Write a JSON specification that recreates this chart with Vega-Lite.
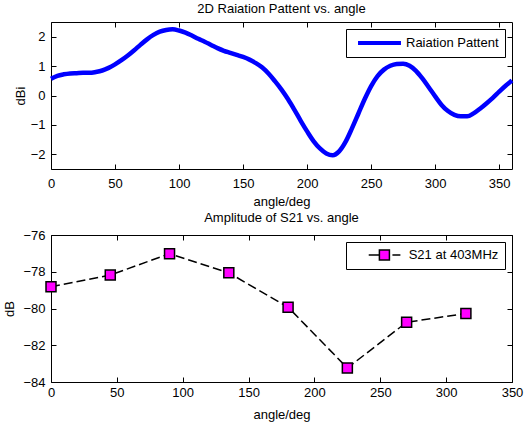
{
  "$schema": "https://vega.github.io/schema/vega-lite/v6.json",
  "padding": {"left": 3, "top": 2, "right": 2, "bottom": 1},
  "spacing": 2,
  "resolve": {"legend": {"stroke": "independent", "fill": "independent"}},
  "config": {
    "font": "Liberation Sans",
    "view": {"stroke": "black", "strokeWidth": 1},
    "axis": {"domain": false, "grid": false, "tickColor": "black", "tickSize": -5, "labelFontSize": 13, "labelColor": "black", "titleFontSize": 13, "titleFontWeight": "normal", "titleColor": "black", "labelFont": "Liberation Sans", "titleFont": "Liberation Sans", "labelFlush": false, "labelOverlap": false},
    "title": {"fontSize": 13, "fontWeight": "normal", "font": "Liberation Sans", "color": "black", "offset": 4},
    "legend": {"labelFontSize": 13, "labelColor": "black", "labelFont": "Liberation Sans", "strokeColor": "black", "fillColor": "white", "padding": 6, "cornerRadius": 0, "orient": "top-right", "offset": 7}
  },
  "vconcat": [
    {
      "width": 461,
      "height": 147,
      "title": {"text": "2D Raiation Pattent vs. angle"},
      "data": {"values": [
        {"angle": 0, "dBi": 0.57}, {"angle": 5, "dBi": 0.67}, {"angle": 10, "dBi": 0.72}, {"angle": 15, "dBi": 0.75},
        {"angle": 20, "dBi": 0.76}, {"angle": 25, "dBi": 0.77}, {"angle": 30, "dBi": 0.77}, {"angle": 35, "dBi": 0.8},
        {"angle": 40, "dBi": 0.85}, {"angle": 45, "dBi": 0.94}, {"angle": 50, "dBi": 1.06}, {"angle": 55, "dBi": 1.2},
        {"angle": 60, "dBi": 1.36}, {"angle": 65, "dBi": 1.54}, {"angle": 70, "dBi": 1.73}, {"angle": 75, "dBi": 1.91},
        {"angle": 80, "dBi": 2.06}, {"angle": 85, "dBi": 2.17}, {"angle": 90, "dBi": 2.23}, {"angle": 95, "dBi": 2.25},
        {"angle": 100, "dBi": 2.21}, {"angle": 105, "dBi": 2.14}, {"angle": 110, "dBi": 2.04}, {"angle": 115, "dBi": 1.93},
        {"angle": 120, "dBi": 1.83}, {"angle": 125, "dBi": 1.72}, {"angle": 130, "dBi": 1.61}, {"angle": 135, "dBi": 1.52},
        {"angle": 140, "dBi": 1.45}, {"angle": 145, "dBi": 1.38}, {"angle": 150, "dBi": 1.31}, {"angle": 155, "dBi": 1.22},
        {"angle": 160, "dBi": 1.1}, {"angle": 165, "dBi": 0.95}, {"angle": 170, "dBi": 0.74}, {"angle": 175, "dBi": 0.48},
        {"angle": 180, "dBi": 0.2}, {"angle": 185, "dBi": -0.12}, {"angle": 190, "dBi": -0.48}, {"angle": 195, "dBi": -0.86},
        {"angle": 200, "dBi": -1.22}, {"angle": 205, "dBi": -1.55}, {"angle": 210, "dBi": -1.8}, {"angle": 215, "dBi": -1.97},
        {"angle": 220, "dBi": -2.03}, {"angle": 225, "dBi": -1.9}, {"angle": 230, "dBi": -1.58}, {"angle": 235, "dBi": -1.12},
        {"angle": 240, "dBi": -0.62}, {"angle": 245, "dBi": -0.12}, {"angle": 250, "dBi": 0.32}, {"angle": 255, "dBi": 0.66},
        {"angle": 260, "dBi": 0.88}, {"angle": 265, "dBi": 1.01}, {"angle": 270, "dBi": 1.07}, {"angle": 275, "dBi": 1.08},
        {"angle": 280, "dBi": 1.01}, {"angle": 285, "dBi": 0.84}, {"angle": 290, "dBi": 0.58}, {"angle": 295, "dBi": 0.28},
        {"angle": 300, "dBi": -0.03}, {"angle": 305, "dBi": -0.32}, {"angle": 310, "dBi": -0.53}, {"angle": 315, "dBi": -0.66},
        {"angle": 320, "dBi": -0.71}, {"angle": 325, "dBi": -0.71}, {"angle": 330, "dBi": -0.61}, {"angle": 335, "dBi": -0.45},
        {"angle": 340, "dBi": -0.27}, {"angle": 345, "dBi": -0.08}, {"angle": 350, "dBi": 0.13}, {"angle": 355, "dBi": 0.33},
        {"angle": 360, "dBi": 0.51}
      ]},
      "layer": [
        {
          "mark": {"type": "line", "strokeWidth": 4.5, "interpolate": "monotone"},
          "encoding": {
            "x": {"field": "angle", "type": "quantitative", "scale": {"domain": [0, 360], "nice": false, "zero": false}, "axis": {"title": "angle/deg", "values": [0, 50, 100, 150, 200, 250, 300, 350], "labelPadding": 13, "titlePadding": 5}},
            "y": {"field": "dBi", "type": "quantitative", "scale": {"domain": [-2.5, 2.5], "nice": false, "zero": false}, "axis": {"title": "dBi", "values": [-2, -1, 0, 1, 2], "labelPadding": 11, "titlePadding": 3}},
            "stroke": {"datum": "Raiation Pattent", "type": "nominal", "scale": {"range": ["#0000ff"]}, "legend": {"title": null, "symbolType": "M-0.33,0H6.83", "symbolSize": 144, "symbolStrokeWidth": 4, "labelOffset": 38, "encode": {"symbols": {"update": {"stroke": {"value": "#0000ff"}, "strokeWidth": {"value": 4}, "shape": {"value": "M-0.33,0H6.83"}}}}}}
          }
        },
        {
          "mark": {"type": "line", "opacity": 0},
          "encoding": {
            "x": {"field": "angle", "type": "quantitative", "axis": {"orient": "top", "labels": false, "title": null, "values": [0, 50, 100, 150, 200, 250, 300, 350]}},
            "y": {"field": "dBi", "type": "quantitative", "axis": {"orient": "right", "labels": false, "title": null, "values": [-2, -1, 0, 1, 2]}}
          }
        }
      ],
      "resolve": {"axis": {"x": "independent", "y": "independent"}}
    },
    {
      "width": 461,
      "height": 147,
      "title": {"text": "Amplitude of S21 vs. angle"},
      "data": {"values": [
        {"angle": 0, "dB": -78.82}, {"angle": 45, "dB": -78.18}, {"angle": 90, "dB": -77.02}, {"angle": 135, "dB": -78.06},
        {"angle": 180, "dB": -79.93}, {"angle": 225, "dB": -83.24}, {"angle": 270, "dB": -80.75}, {"angle": 315, "dB": -80.27}
      ]},
      "layer": [
        {
          "mark": {"type": "line", "color": "black", "strokeWidth": 1.5, "strokeDash": [9, 4]},
          "encoding": {
            "x": {"field": "angle", "type": "quantitative", "scale": {"domain": [0, 350], "nice": false, "zero": false}, "axis": {"title": "angle/deg", "values": [0, 50, 100, 150, 200, 250, 300, 350], "labelPadding": 9, "titlePadding": 9}},
            "y": {"field": "dB", "type": "quantitative", "scale": {"domain": [-84, -76], "nice": false, "zero": false}, "axis": {"title": "dB", "values": [-84, -82, -80, -78, -76], "labelPadding": 11, "titlePadding": 6}}
          }
        },
        {
          "mark": {"type": "point", "shape": "square", "filled": true, "size": 100, "stroke": "black", "strokeWidth": 1.5, "opacity": 1},
          "encoding": {
            "x": {"field": "angle", "type": "quantitative", "axis": null},
            "y": {"field": "dB", "type": "quantitative", "axis": null},
            "fill": {"datum": "S21 at 403MHz", "type": "nominal", "scale": {"range": ["#ff00ff"]}, "legend": {"title": null, "symbolType": "M1.62,0H3.4M3.4,-0.83H5.07V0.83H3.4ZM5.57,0H6.9", "symbolSize": 144, "symbolStrokeWidth": 1.5, "labelOffset": 42.7, "encode": {"symbols": {"update": {"stroke": {"value": "black"}, "strokeWidth": {"value": 1.5}, "fill": {"value": "#ff00ff"}, "shape": {"value": "M1.62,0H3.4M3.4,-0.83H5.07V0.83H3.4ZM5.57,0H6.9"}}}}}}
          }
        },
        {
          "mark": {"type": "line", "opacity": 0},
          "encoding": {
            "x": {"field": "angle", "type": "quantitative", "axis": {"orient": "top", "labels": false, "title": null, "values": [0, 50, 100, 150, 200, 250, 300, 350]}},
            "y": {"field": "dB", "type": "quantitative", "axis": {"orient": "right", "labels": false, "title": null, "values": [-84, -82, -80, -78, -76]}}
          }
        }
      ],
      "resolve": {"axis": {"x": "independent", "y": "independent"}}
    }
  ]
}
